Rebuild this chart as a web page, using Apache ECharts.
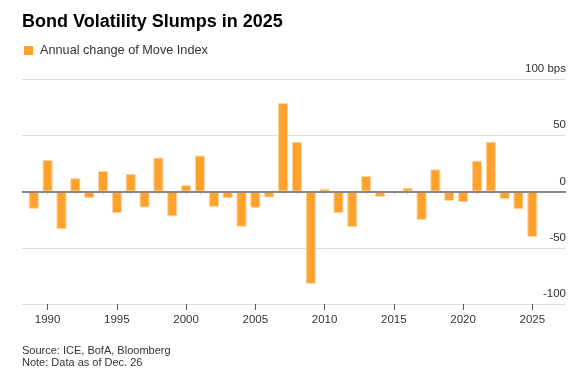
<!DOCTYPE html>
<html>
<head>
<meta charset="utf-8">
<script src="https://cdn.jsdelivr.net/npm/echarts@6/dist/echarts.min.js"></script>
<style>
html,body{margin:0;padding:0;background:#fff;}
#chart{width:586px;height:374px;}
</style>
</head>
<body>
<div id="chart"></div>
<script>
const years = [1989,1990,1991,1992,1993,1994,1995,1996,1997,1998,1999,2000,2001,2002,2003,2004,2005,2006,2007,2008,2009,2010,2011,2012,2013,2014,2015,2016,2017,2018,2019,2020,2021,2022,2023,2024,2025];
const moveChange = [-15.3,28.0,-33.3,11.8,-5.9,18.3,-19.2,15.6,-14.2,30.1,-22.1,5.6,31.9,-13.6,-5.9,-31.3,-14.5,-5.3,78.6,44.2,-82.0,2.4,-19.2,-31.6,13.9,-4.7,-1.2,3.3,-25.2,19.6,-8.3,-9.5,27.3,44.2,-6.8,-15.7,-40.3];
const yearLabels = [1990,1995,2000,2005,2010,2015,2020,2025];
const yTicks = [-100,-50,0,50,100];
const titleText = 'Bond Volatility Slumps in 2025';
const seriesName = 'Annual change of Move Index';
const sourceText = 'Source: ICE, BofA, Bloomberg';
const noteText = 'Note: Data as of Dec. 26';

const FONT = '"Liberation Sans", Arial, Helvetica, sans-serif';
const chart = echarts.init(document.getElementById('chart'), null, {renderer: 'canvas'});
const xMin = 1988.15, xMax = 2027.43;

chart.setOption({
  animation: false,
  backgroundColor: '#fff',
  textStyle: {fontFamily: FONT},
  title: {
    text: titleText,
    left: 22, top: 13, padding: 0,
    textStyle: {fontFamily: FONT, fontSize: 18, fontWeight: 'bold', color: '#000'}
  },
  legend: {
    left: 24, top: 44, padding: 0,
    icon: 'rect', itemWidth: 9, itemHeight: 9,
    itemStyle: {borderWidth: 0, color: '#FFA22D'},
    textStyle: {fontFamily: FONT, fontSize: 12.7, color: '#333', padding: [0,0,0,2]},
    data: [seriesName]
  },
  grid: {left: 22, right: 20, top: 79, bottom: 70, containLabel: false},
  xAxis: [
    {
      type: 'value', min: xMin, max: xMax,
      axisLine: {show: true, lineStyle: {color: '#ccc', width: 1}},
      axisTick: {show: true, customValues: years, length: 3, lineStyle: {color: '#ccc'}},
      axisLabel: {show: false},
      splitLine: {show: false}
    },
    {
      type: 'value', min: xMin, max: xMax, position: 'bottom',
      axisLine: {show: false},
      axisTick: {show: true, customValues: yearLabels, length: 6, lineStyle: {color: '#555'}},
      axisLabel: {show: true, customValues: yearLabels, margin: 10, fontSize: 11.5, color: '#333', fontFamily: FONT,
        formatter: v => String(Math.round(v))},
      splitLine: {show: false}
    }
  ],
  yAxis: {
    type: 'value', position: 'right', min: -100, max: 100, interval: 50,
    axisLine: {show: false}, axisTick: {show: false},
    splitLine: {show: true, lineStyle: {color: '#dcdcdc', width: 1}},
    axisLabel: {
      inside: true, margin: 0, fontSize: 11.5, color: '#333', fontFamily: FONT,
      verticalAlign: 'bottom', padding: [0,0,4,0],
      formatter: v => v === 100 ? '100 bps' : String(v)
    }
  },
  series: [{
    name: seriesName,
    type: 'bar',
    xAxisIndex: 0,
    barWidth: 10,
    itemStyle: {color: '#FFA22D', borderColor: '#FFD49A', borderWidth: 1},
    data: years.map((y, i) => [y, moveChange[i]]),
    markLine: {
      silent: true, symbol: 'none', label: {show: false},
      lineStyle: {color: '#888', type: 'solid', width: 2},
      data: [{yAxis: 0}],
      z: 10
    }
  }],
  graphic: [
    {type: 'text', left: 22, top: 345, style: {text: sourceText, fontFamily: FONT, fontSize: 11, fill: '#333'}},
    {type: 'text', left: 22, top: 357, style: {text: noteText, fontFamily: FONT, fontSize: 11, fill: '#333'}}
  ]
});
</script>
</body>
</html>
